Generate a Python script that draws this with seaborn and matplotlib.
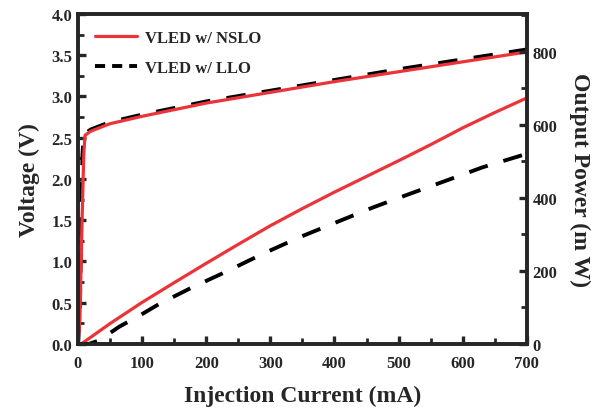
import numpy as np
import pandas as pd
import matplotlib
matplotlib.use('Agg')
import matplotlib.pyplot as plt
import seaborn as sns
from matplotlib.ticker import MultipleLocator

# Voltage vs current (left axis)
i_v_nslo = [0, 3, 6, 9, 11, 20, 50, 100, 150, 200, 300, 400, 500, 600, 700]
v_nslo = [0, 0.3, 1.4, 2.3, 2.53, 2.58, 2.67, 2.76, 2.84, 2.92, 3.05, 3.18, 3.30, 3.42, 3.54]
i_v_llo = [0, 3, 5, 7, 9, 20, 50, 100, 150, 200, 300, 400, 500, 600, 700]
v_llo = [0, 0.4, 1.5, 2.3, 2.54, 2.60, 2.69, 2.78, 2.86, 2.94, 3.07, 3.20, 3.33, 3.45, 3.57]

# Output power vs current (right axis)
i_p_nslo = [0, 5, 50, 100, 150, 200, 250, 300, 350, 400, 450, 500, 550, 600, 650, 700]
p_nslo = [0, 0, 56, 114, 168, 221, 273, 324, 371, 416, 459, 502, 546, 592, 634, 674]
i_p_llo = [0, 17, 20, 30, 40, 64, 100, 127, 178, 231, 287, 345, 408, 460, 517, 575, 631, 700]
p_llo = [0, 0, 2, 8, 18, 47, 82, 110, 155, 198, 246, 292, 337, 374, 411, 448, 484, 521]

red = '#ec3338'

sns.set_style('ticks')
plt.rcParams['font.family'] = ['Liberation Serif', 'DejaVu Serif']
plt.rcParams['font.weight'] = 'bold'

fig = plt.figure(figsize=(6, 4.14), dpi=100)
ax = fig.add_axes([0.13, 0.1667, 0.748, 0.7971])
ax2 = ax.twinx()

dash = (0, (5.0, 4.2))

df_v = pd.DataFrame({'I': i_v_nslo, 'V': v_nslo})
df_v2 = pd.DataFrame({'I': i_v_llo, 'V': v_llo})
sns.lineplot(data=df_v2, x='I', y='V', ax=ax, color='black', lw=2.8,
             linestyle=dash, label='VLED w/ LLO', sort=False)
sns.lineplot(data=df_v, x='I', y='V', ax=ax, color=red, lw=2.3,
             label='VLED w/ NSLO', sort=False)

df_p = pd.DataFrame({'I': i_p_nslo, 'P': p_nslo})
df_p2 = pd.DataFrame({'I': i_p_llo, 'P': p_llo})
sns.lineplot(data=df_p, x='I', y='P', ax=ax2, color=red, lw=2.3, sort=False)
sns.lineplot(data=df_p2, x='I', y='P', ax=ax2, color='black', lw=2.8,
             linestyle=dash, sort=False)

ax.set_xlim(0, 700)
ax.set_ylim(0, 4.0)
ax2.set_ylim(0, 904)

ax.xaxis.set_major_locator(MultipleLocator(100))
ax.xaxis.set_minor_locator(MultipleLocator(50))
ax.yaxis.set_major_locator(MultipleLocator(0.5))
ax.yaxis.set_minor_locator(MultipleLocator(0.25))
ax2.yaxis.set_major_locator(MultipleLocator(200))
ax2.yaxis.set_minor_locator(MultipleLocator(100))

for a in (ax, ax2):
    for s in a.spines.values():
        s.set_linewidth(2.6)
        s.set_visible(True)
    a.tick_params(which='major', direction='in', length=6, width=2.4,
                  labelsize=12, pad=4)
    a.tick_params(which='minor', direction='in', length=4, width=2.0)
ax.tick_params(axis='x', which='major', pad=8)
ax.tick_params(which='both', top=False)
ax2.tick_params(which='both', top=False)

ax.set_xlabel('Injection Current (mA)', fontsize=17, fontweight='bold', labelpad=10)
ax.set_ylabel('Voltage (V)', fontsize=17, fontweight='bold', labelpad=8)
ax2.set_ylabel('Output Power (m W)', fontsize=17, fontweight='bold',
               rotation=270, labelpad=24)

handles, labels = ax.get_legend_handles_labels()
order = [labels.index('VLED w/ NSLO'), labels.index('VLED w/ LLO')]
leg = ax.legend([handles[k] for k in order], [labels[k] for k in order],
                loc='upper left', frameon=False, fontsize=12, handlelength=2.5,
                handletextpad=0.5, labelspacing=0.85, bbox_to_anchor=(0.005, 0.997))
leg.get_lines()[1].set_dashes((2.6, 1.8))

fig.savefig('out.png', dpi=100)
